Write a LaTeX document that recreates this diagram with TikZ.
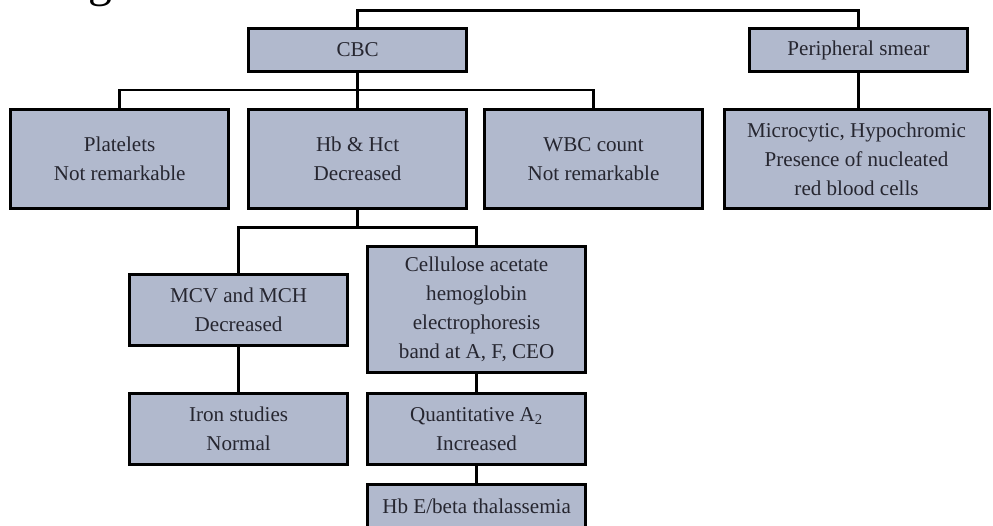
\documentclass[tikz,border=0pt]{standalone}
\usepackage{fontspec}
\setmainfont{Liberation Serif}
\usepackage{xcolor}
\usepackage{tikz}
\usetikzlibrary{positioning}

\definecolor{boxfill}{RGB}{177,185,205}
\definecolor{boxtext}{RGB}{38,38,48}

\begin{document}
\begin{tikzpicture}[
    box/.style={rectangle, draw=black, fill=boxfill, line width=2.1pt, align=center, minimum width=5.45cm, minimum height=1.075cm, inner sep=2pt, text=boxtext, font=\fontsize{15}{20.6}\selectfont},
    tallbox/.style={box, minimum height=2.475cm},
    midbox/.style={box, minimum height=1.775cm},
    bigbox/.style={box, minimum height=3.15cm},
    link/.style={line width=2.1pt, draw=black}
]
    \useasboundingbox (0,0) rectangle (24.825,-13.125);
    \node [anchor=south, inner sep=0pt, outer sep=0pt, font=\fontsize{34}{34}\selectfont] (title) at (2.5,-0.18) {g};

    \node [box] (cbc) at (8.94,-1.25) {CBC};
    \node [box, right=7cm of cbc] (ps) {Peripheral smear};

    \node [tallbox, below=0.875cm of cbc] (hb) {Hb \& Hct\\Decreased};
    \node [tallbox, left=0.425cm of hb] (plt) {Platelets\\Not remarkable};
    \node [tallbox, right=0.375cm of hb] (wbc) {WBC count\\Not remarkable};
    \node [tallbox, minimum width=6.625cm, below=0.875cm of ps, xshift=-0.05cm] (micro) {Microcytic, Hypochromic\\Presence of nucleated\\red blood cells};

    \node [midbox, below=1.575cm of hb, xshift=-2.975cm] (mcv) {MCV and MCH\\Decreased};
    \node [bigbox, below=0.875cm of hb, xshift=2.975cm] (cell) {Cellulose acetate\\hemoglobin\\electrophoresis\\band at A, F, CEO};
    \node [midbox, below=1.125cm of mcv] (iron) {Iron studies\\Normal};
    \node [midbox, below=0.45cm of cell] (quant) {Quantitative A\textsubscript{2}\\Increased};
    \node [box, below=0.425cm of quant] (hbe) {Hb E/beta thalassemia};

    \draw [link] (cbc.north) -- ++(0,0.425) -| (ps.north);
    \draw [link] (cbc) -- (hb);
    \draw [link] (plt.north) -- ++(0,0.45) -| (wbc.north);
    \draw [link] (ps.south) -- (ps.south |- micro.north);

    \coordinate (hbbus) at ([yshift=-0.45cm]hb.south);
    \draw [link] (hb.south) -- (hbbus);
    \draw [link] (mcv.north) |- (hbbus) -| (cell.north);
    \draw [link] (mcv) -- (iron);
    \draw [link] (cell) -- (quant);
    \draw [link] (quant) -- (hbe);
\end{tikzpicture}
\end{document}
